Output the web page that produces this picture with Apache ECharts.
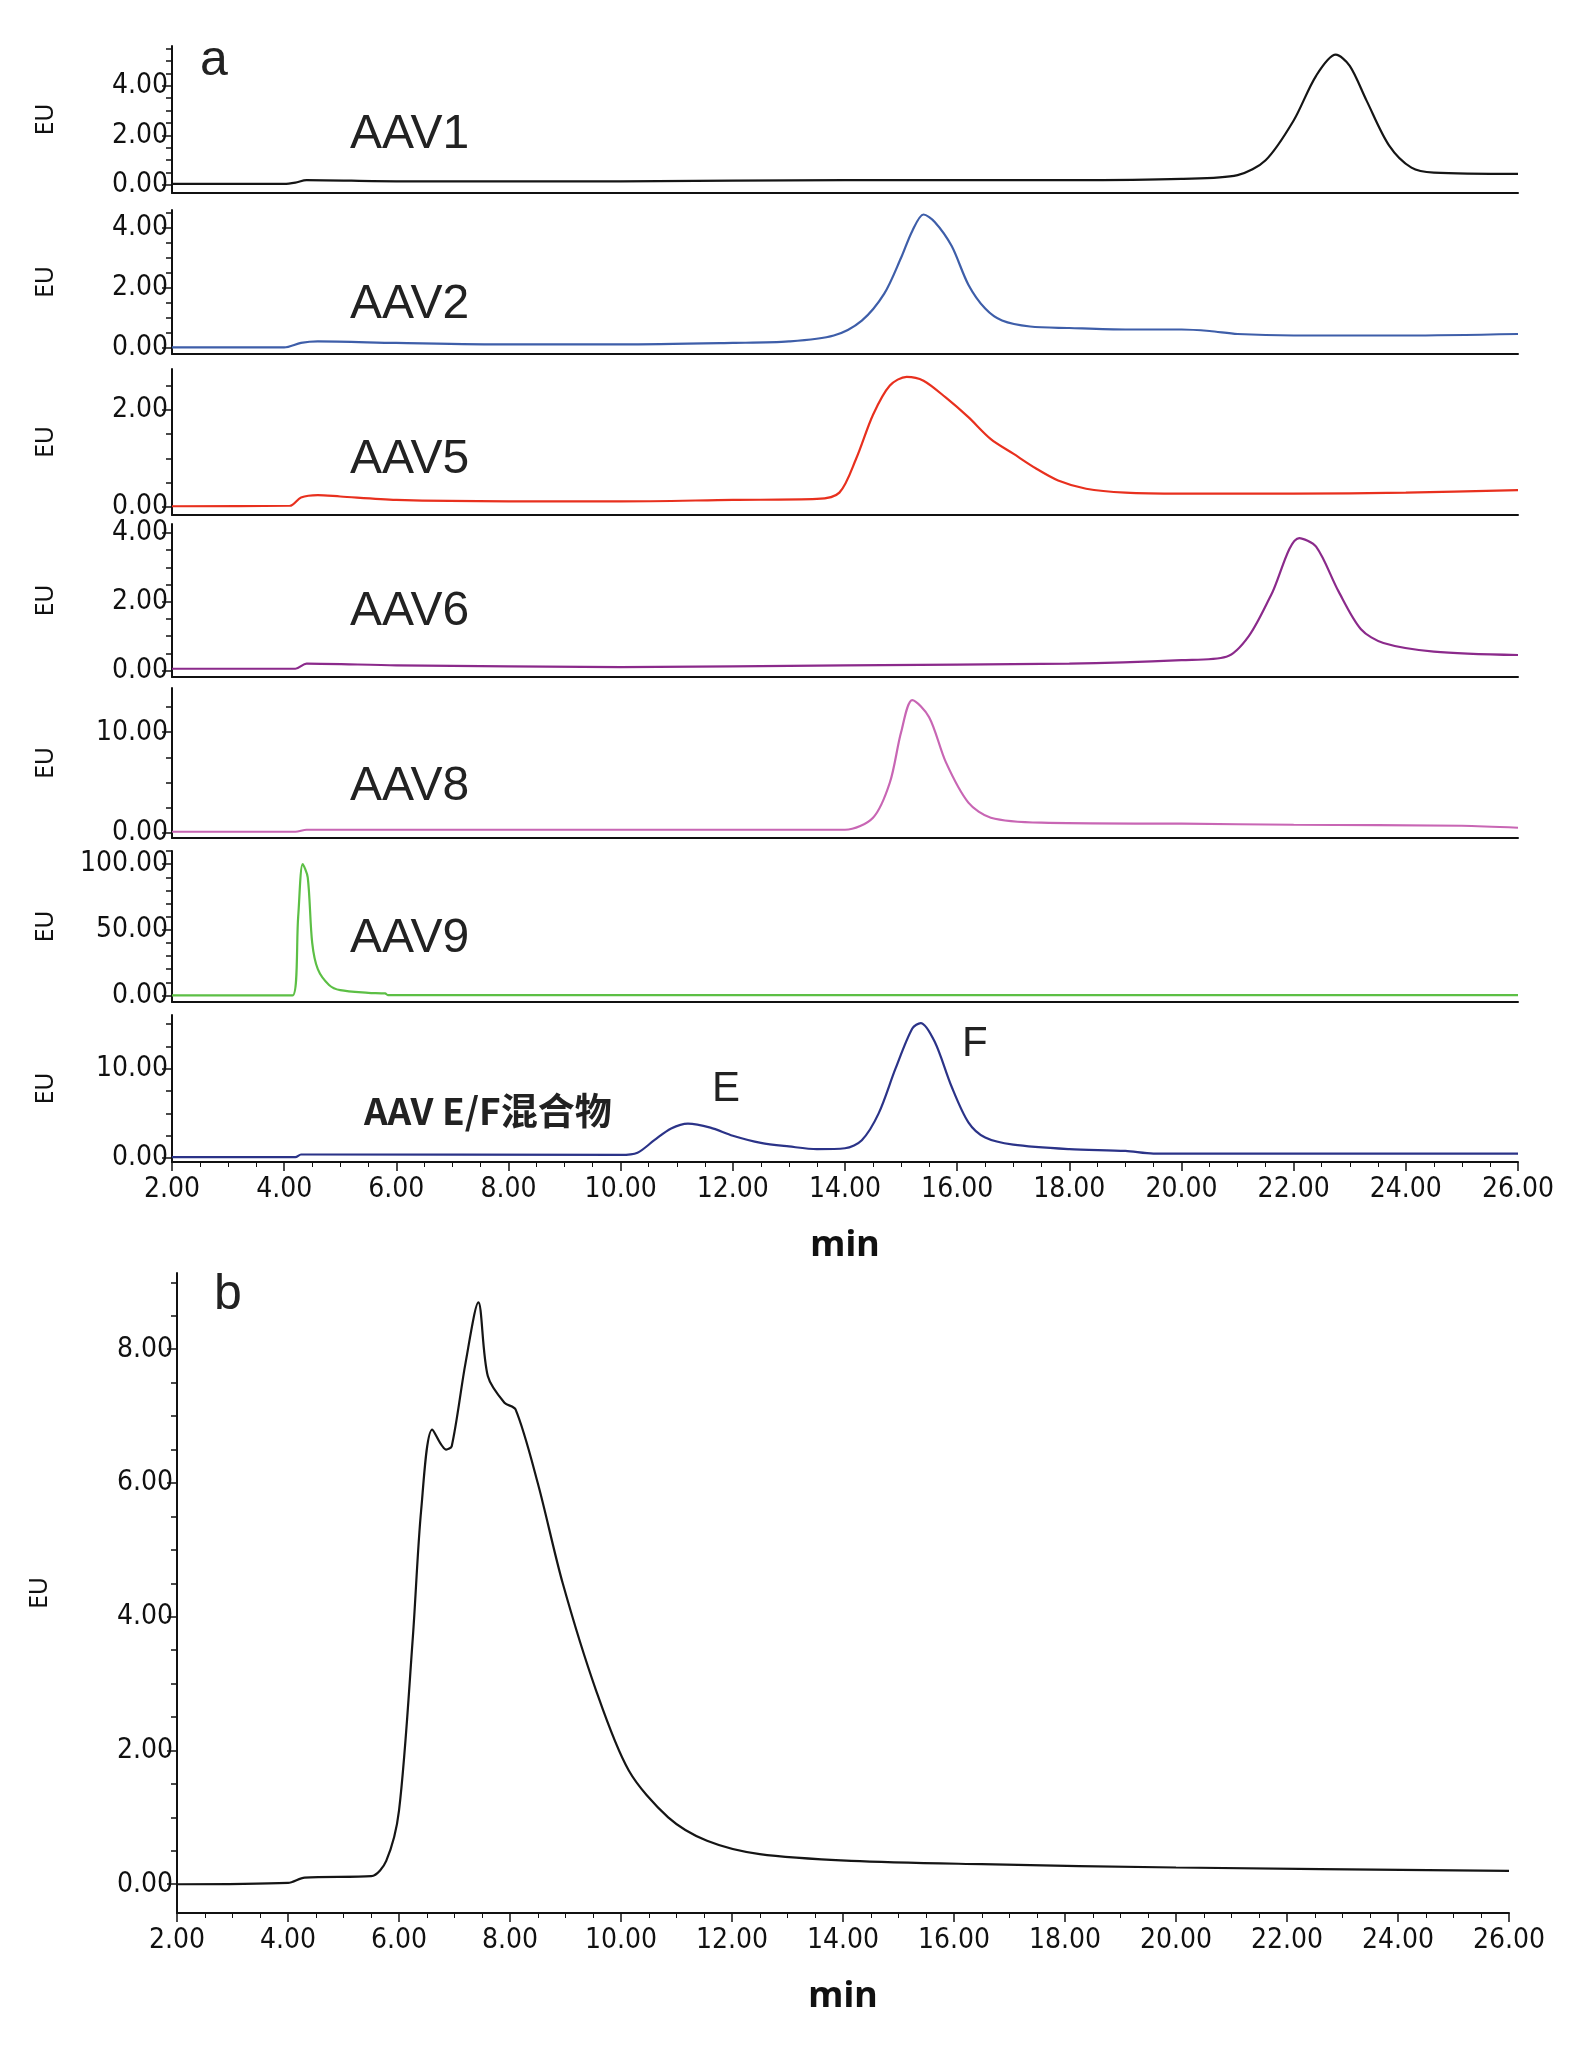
<!DOCTYPE html>
<html><head><meta charset="utf-8">
<script src="https://cdn.jsdelivr.net/npm/echarts@6/dist/echarts.min.js"></script>
<style>html,body{margin:0;padding:0;background:#fff}#c{width:1587px;height:2048px}</style>
</head><body><div id="c"></div>
<script>
// ---- data (time in min, signal in EU) ----
const xTicks = [2,4,6,8,10,12,14,16,18,20,22,26];
const aav1 = [[2,0.05],[4.0,0.05],[4.2,0.1],[4.4,0.2],[6,0.15],[10,0.15],[14,0.2],[18,0.2],[20,0.25],[21,0.4],[21.5,1.0],[22,2.6],[22.4,4.4],[22.75,5.25],[23.0,4.8],[23.3,3.4],[23.7,1.6],[24.1,0.7],[24.5,0.5],[26,0.45]];
const aav2 = [[2,0],[4,0],[4.3,0.15],[4.6,0.2],[6,0.15],[8,0.1],[10,0.1],[12,0.15],[13,0.2],[13.8,0.4],[14.3,0.9],[14.7,1.8],[15,3.0],[15.2,3.9],[15.4,4.45],[15.6,4.2],[15.9,3.4],[16.2,2.1],[16.5,1.3],[16.8,0.9],[17.3,0.7],[18,0.65],[19,0.6],[20,0.6],[20.5,0.55],[21,0.45],[22,0.4],[24,0.4],[26,0.45]];
const aav5 = [[2,0.02],[4.1,0.03],[4.3,0.2],[4.6,0.25],[5,0.22],[6,0.15],[8,0.12],[10,0.12],[12,0.15],[13.5,0.17],[13.9,0.3],[14.2,1.0],[14.5,1.9],[14.8,2.5],[15.1,2.68],[15.4,2.6],[15.8,2.25],[16.2,1.85],[16.6,1.4],[17,1.1],[17.4,0.8],[17.8,0.55],[18.3,0.38],[19,0.3],[20,0.28],[22,0.28],[24,0.3],[26,0.35]];
const aav6 = [[2,0.05],[4.2,0.05],[4.4,0.2],[6,0.15],[10,0.1],[14,0.15],[18,0.2],[20,0.3],[20.8,0.4],[21.2,1.0],[21.6,2.2],[22.1,3.85],[22.4,3.6],[22.8,2.3],[23.2,1.2],[23.6,0.8],[24.5,0.55],[26,0.45]];
const aav8 = [[2,0.1],[4.2,0.1],[4.4,0.3],[14,0.3],[14.5,1.5],[14.8,5],[15.0,10],[15.2,13.2],[15.5,11.5],[15.8,7],[16.2,3],[16.6,1.5],[17.5,1.0],[20,0.9],[22,0.8],[25,0.7],[26,0.5]];
const aav9 = [[2,0],[4.15,0],[4.25,60],[4.33,100],[4.42,90],[4.5,40],[4.6,20],[4.8,8],[5.0,4],[5.5,2],[5.8,1.5],[5.85,0.3],[26,0.3]];
const aavEF = [[2,0.1],[4.2,0.1],[4.3,0.4],[10,0.35],[10.3,0.6],[10.6,2.0],[10.9,3.3],[11.2,3.85],[11.6,3.4],[12,2.5],[12.5,1.7],[13,1.3],[13.5,1.0],[14,1.1],[14.3,2],[14.6,5],[14.9,10],[15.2,14.5],[15.35,15.1],[15.6,13],[15.9,8],[16.2,4],[16.5,2.3],[17,1.5],[18,1.0],[19,0.8],[19.5,0.5],[26,0.5]];
const sampleB = [[2,0],[4,0.02],[4.3,0.1],[5.5,0.12],[5.77,0.35],[6.0,1.1],[6.25,3.7],[6.4,5.6],[6.6,6.8],[6.85,6.5],[6.95,6.55],[7.2,7.8],[7.43,8.7],[7.6,7.6],[7.9,7.2],[8.1,7.1],[8.5,6.0],[8.95,4.5],[9.55,2.9],[10.14,1.7],[10.85,1.0],[11.55,0.65],[12.5,0.45],[14.15,0.35],[16.5,0.3],[20,0.25],[26,0.2]];
const names = ['AAV1','AAV2','AAV5','AAV6','AAV8','AAV9','AAV E/F混合物'];
const majorY = [[0,2,4],[0,2,4],[0,2],[0,2,4],[0,10],[0,50,100],[0,10],[0,2,4,6,8]];
const minorStep = [0.5,0.5,0.5,0.5,2.5,10,2.5,0.5];

// ---- layout/style ----
const FONT = "'Liberation Sans Narrow','DejaVu Sans Condensed',Arial,sans-serif";
const panels = [
 {d:aav1,c:'#151515',top:46,bot:193,min:-0.32,max:5.6},
 {d:aav2,c:'#3e5ea9',top:210,bot:354,min:-0.22,max:4.6},
 {d:aav5,c:'#e8301e',top:369,bot:515,min:-0.16,max:2.84},
 {d:aav6,c:'#8b2a8b',top:524,bot:677,min:-0.19,max:4.26},
 {d:aav8,c:'#c866b4',top:688,bot:838,min:-0.52,max:14.4},
 {d:aav9,c:'#5cbf45',top:851,bot:1002,min:-5,max:110},
 {d:aavEF,c:'#2b3388',top:1015,bot:1162,min:-0.44,max:16},
 {d:sampleB,c:'#151515',top:1273,bot:1913,min:-0.43,max:9.14}
];
const grid=[],xAxis=[],yAxis=[],series=[];
panels.forEach((p,i)=>{
  const isB=i===7, last=(i===6||i===7);
  grid.push({left:isB?177:172,right:isB?78:69,top:p.top,height:p.bot-p.top});
  xAxis.push({type:'value',gridIndex:i,min:2,max:26,interval:2,
    axisLine:{show:true,onZero:false,lineStyle:{color:'#111',width:2}},
    axisTick:{show:last,length:9,lineStyle:{color:'#111',width:1.5}},
    minorTick:{show:last,splitNumber:4,length:5,lineStyle:{color:'#111'}},
    splitLine:{show:false},
    axisLabel:{show:last,fontFamily:FONT,fontSize:28,color:'#111',margin:14,formatter:v=>v.toFixed(2)},
    name:last?'min':'',nameLocation:'middle',nameGap:66,nameTextStyle:{fontFamily:'Noto Sans, sans-serif',fontSize:36,fontWeight:'bold',color:'#111'}});
  const minors=[];for(let v=0;v<=p.max+1e-9;v+=minorStep[i]){minors.push(+v.toFixed(3));}
  yAxis.push({type:'value',gridIndex:i,min:p.min,max:p.max,
    axisLine:{show:true,lineStyle:{color:'#111',width:2}},
    axisTick:{show:true,length:10,customValues:majorY[i],lineStyle:{color:'#111',width:1.5}},
    splitLine:{show:false},
    axisLabel:{fontFamily:FONT,fontSize:28,color:'#111',margin:4,customValues:majorY[i],formatter:v=>v.toFixed(2)},
    name:'EU',nameLocation:'middle',nameRotate:90,nameGap:isB?125:114,nameTextStyle:{fontFamily:'Noto Sans, sans-serif',fontSize:25,color:'#111'}});
  yAxis.push({type:'value',gridIndex:i,min:p.min,max:p.max,position:'left',
    axisLine:{show:false},axisLabel:{show:false},splitLine:{show:false},
    axisTick:{show:true,length:6,customValues:minors,lineStyle:{color:'#111',width:1.5}}});
  series.push({type:'line',xAxisIndex:i,yAxisIndex:2*i,data:p.d,showSymbol:false,smooth:0.3,
    lineStyle:{color:p.c,width:2.2},animation:false});
});
const lab=(t,x,y,fs,fw,ff)=>({type:'text',left:x,top:y,style:{text:t,fontSize:fs,fontWeight:fw||'normal',fontFamily:ff||'Liberation Sans, Arial, sans-serif',fill:'#222'}});
const labY=[111,281,436,588,763,915];
const graphic=[lab('a',200,36,50),lab('b',214,1270,50)];
names.slice(0,6).forEach((n,i)=>graphic.push(lab(n,350,labY[i],48)));
graphic.push(lab(names[6],364,1092,37,'bold',"'Noto Sans CJK SC',sans-serif"));
graphic.push(lab('E',712,1068,42));
graphic.push(lab('F',962,1023,42));
const chart=echarts.init(document.getElementById('c'));
chart.setOption({animation:false,grid,xAxis,yAxis,series,graphic});
</script></body></html>
